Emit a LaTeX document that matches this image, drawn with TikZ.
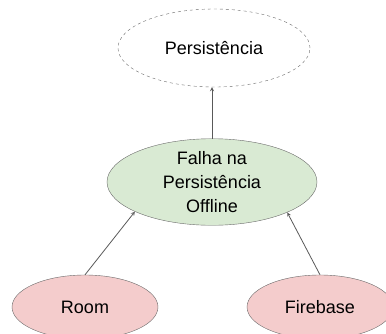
\documentclass[tikz,border=0pt]{standalone}
\usepackage{fontspec}
\setmainfont{Liberation Sans}
\usepackage{tikz}
\usetikzlibrary{arrows, shapes, positioning}
\definecolor{verde}{HTML}{D9EAD3}
\definecolor{rosa}{HTML}{F4CCCC}
\definecolor{traco}{HTML}{595959}
\tikzstyle{el}=[ellipse, draw=traco!90, inner sep=0pt, text centered, font=\fontsize{18}{24}\selectfont]
\tikzstyle{pers}=[el, dashed, minimum width=192pt, minimum height=78pt]
\tikzstyle{falha}=[el, fill=verde, minimum width=210pt, minimum height=80pt, align=center]
\tikzstyle{causa}=[el, fill=rosa, minimum width=146pt, minimum height=64pt]
\tikzstyle{seta}=[draw=traco, thick, -stealth]

\begin{document}
\begin{tikzpicture}[x=1pt, y=-1pt]
 \useasboundingbox (0,0) rectangle (386,333);
 \clip (0,0) rectangle (386,333);

 \node[pers] (persistencia) at (214,48) {Persistência};
 \node[falha] (falha) at (212,182) {Falha na\\Persistência\\Offline};
 \node[causa] (room) at (85,307) {Room};
 \node[causa] (firebase) at (320,307) {Firebase};

 \draw[seta] (falha.north) -- (persistencia.south -| falha.north);
 \draw[seta] (room.north) -- (falha.201);
 \draw[seta] (firebase.north) -- (falha.338);

\end{tikzpicture}
\end{document}
